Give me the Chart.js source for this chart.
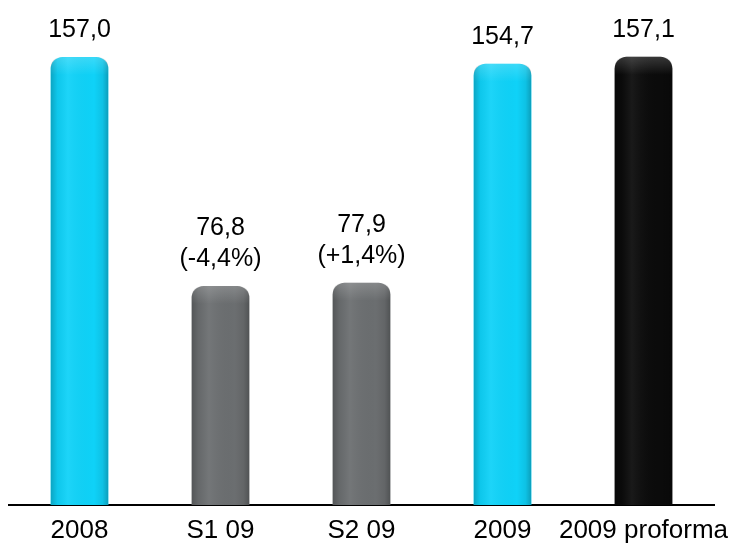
<!DOCTYPE html>
<html>
<head>
<meta charset="utf-8">
<script src="https://cdn.jsdelivr.net/npm/chart.js@4"></script>
<style>
  html, body { margin: 0; padding: 0; background: #fff; }
  #wrap { width: 731px; height: 547px; }
</style>
</head>
<body>
<div id="wrap"><canvas id="c" width="731" height="547"></canvas></div>
<script>
// chart data
const categories = ['2008', 'S1 09', 'S2 09', '2009', '2009 proforma'];
const values = [157.0, 76.8, 77.9, 154.7, 157.1];
const valueLabels = [['157,0'], ['76,8', '(-4,4%)'], ['77,9', '(+1,4%)'], ['154,7'], ['157,1']];
const barColors = ['#0fd2f8', '#6b6e70', '#6b6e70', '#0fd2f8', '#0b0b0b'];

const FONT = "'Liberation Sans', Arial, sans-serif";

// cylinder shading + labels on top of the bars
const barDecor = {
    id: 'barDecor',
    afterDatasetsDraw(chart) {
        const ctx = chart.ctx;
        const meta = chart.getDatasetMeta(0);
        meta.data.forEach((bar, i) => {
            const left = bar.x - bar.width / 2;
            const right = bar.x + bar.width / 2;
            const top = bar.y;
            const bottom = bar.base;
            const r = 12;

            ctx.save();
            ctx.beginPath();
            ctx.moveTo(left, bottom);
            ctx.lineTo(left, top + r);
            ctx.quadraticCurveTo(left, top, left + r, top);
            ctx.lineTo(right - r, top);
            ctx.quadraticCurveTo(right, top, right, top + r);
            ctx.lineTo(right, bottom);
            ctx.closePath();
            ctx.clip();

            const g = ctx.createLinearGradient(left, 0, right, 0);
            g.addColorStop(0, 'rgba(0,0,0,0.22)');
            g.addColorStop(0.12, 'rgba(0,0,0,0.05)');
            g.addColorStop(0.3, 'rgba(255,255,255,0.06)');
            g.addColorStop(0.75, 'rgba(0,0,0,0)');
            g.addColorStop(0.9, 'rgba(0,0,0,0.08)');
            g.addColorStop(1, 'rgba(0,0,0,0.25)');
            ctx.fillStyle = g;
            ctx.fillRect(left, top, right - left, bottom - top);

            const h = ctx.createLinearGradient(0, top, 0, top + 18);
            h.addColorStop(0, 'rgba(255,255,255,0.18)');
            h.addColorStop(1, 'rgba(255,255,255,0)');
            ctx.fillStyle = h;
            ctx.fillRect(left, top, right - left, 18);
            ctx.restore();

            // value labels
            ctx.save();
            ctx.fillStyle = '#000';
            ctx.font = '25px ' + FONT;
            ctx.textAlign = 'center';
            ctx.textBaseline = 'alphabetic';
            const lines = valueLabels[i];
            lines.forEach((txt, k) => {
                const y = top - 20 - (lines.length - 1 - k) * 31;
                ctx.fillText(txt, bar.x, y);
            });
            ctx.restore();
        });
    }
};

new Chart(document.getElementById('c'), {
    type: 'bar',
    data: {
        labels: categories,
        datasets: [{
            data: values,
            backgroundColor: barColors,
            borderWidth: 0,
            borderRadius: { topLeft: 12, topRight: 12, bottomLeft: 0, bottomRight: 0 },
            borderSkipped: 'bottom',
            barPercentage: 0.41,
            categoryPercentage: 1
        }]
    },
    options: {
        responsive: false,
        animation: false,
        layout: { padding: { top: 20, left: 9, right: 17, bottom: 0 } },
        plugins: {
            legend: { display: false },
            tooltip: { enabled: false }
        },
        scales: {
            x: {
                grid: { display: false, drawTicks: false },
                border: { display: true, color: '#000', width: 2 },
                ticks: { color: '#000', font: { size: 26, family: FONT }, padding: 10, maxRotation: 0, autoSkip: false },
                afterFit: (scale) => {
                    scale.height = 42;
                    scale.paddingLeft = 0;
                    scale.paddingRight = 0;
                }
            },
            y: {
                display: false,
                min: 0,
                max: 170
            }
        }
    },
    plugins: [barDecor]
});
</script>
</body>
</html>
